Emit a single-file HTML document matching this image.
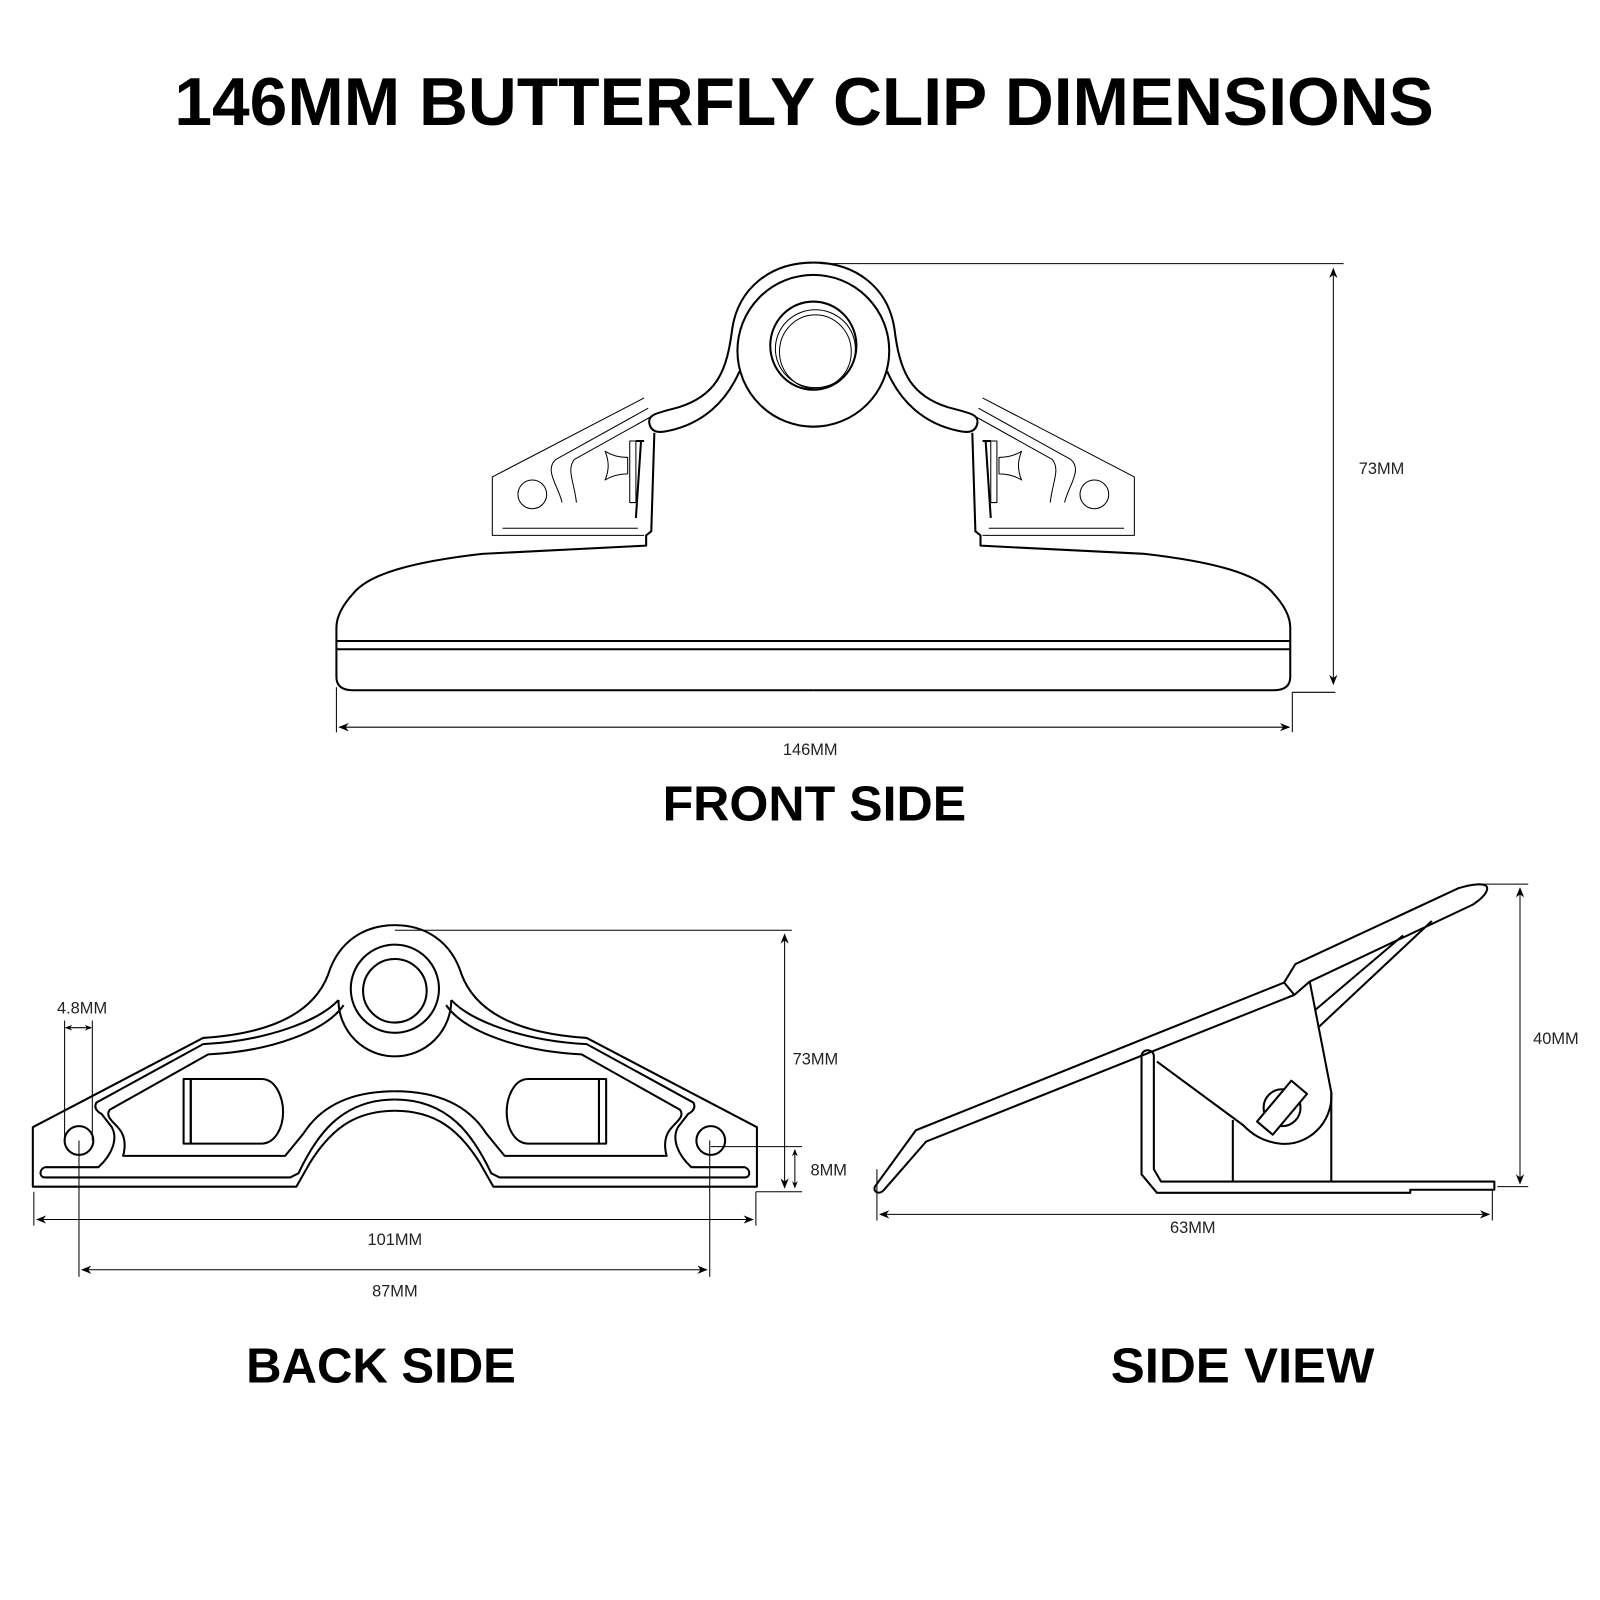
<!DOCTYPE html>
<html><head><style>html,body{margin:0;padding:0;background:#fff}svg{display:block}</style></head>
<body>
<svg width="1600" height="1600" viewBox="0 0 1560 1560" xmlns="http://www.w3.org/2000/svg">
<defs>
<marker id="a" viewBox="0 0 10 10" refX="9" refY="5" markerWidth="10" markerHeight="10" markerUnits="userSpaceOnUse" orient="auto-start-reverse"><path d="M0,1 L10,5 L0,9 L3,5Z" fill="#000"/></marker>
<marker id="s" viewBox="0 0 10 10" refX="9" refY="5" markerWidth="7" markerHeight="7" markerUnits="userSpaceOnUse" orient="auto-start-reverse"><path d="M0,1 L10,5 L0,9 L3,5Z" fill="#000"/></marker>
</defs>
<g font-family="Liberation Sans, sans-serif" fill="#000">
<text x="170" y="122" font-size="66" font-weight="bold" textLength="1228" lengthAdjust="spacingAndGlyphs">146MM BUTTERFLY CLIP DIMENSIONS</text>
<text x="646" y="800" font-size="48" font-weight="bold" textLength="296" lengthAdjust="spacingAndGlyphs">FRONT SIDE</text>
<text x="240" y="1348" font-size="48" font-weight="bold" textLength="263" lengthAdjust="spacingAndGlyphs">BACK SIDE</text>
<text x="1083" y="1348" font-size="48" font-weight="bold" textLength="257" lengthAdjust="spacingAndGlyphs">SIDE VIEW</text>
<g font-size="16" fill="#222">
<text x="1347" y="462" text-anchor="middle">73MM</text>
<text x="790" y="736" text-anchor="middle">146MM</text>
<text x="80" y="988" text-anchor="middle">4.8MM</text>
<text x="795" y="1038" text-anchor="middle">73MM</text>
<text x="808" y="1146" text-anchor="middle">8MM</text>
<text x="385" y="1214" text-anchor="middle">101MM</text>
<text x="385" y="1264" text-anchor="middle">87MM</text>
<text x="1517" y="1018" text-anchor="middle">40MM</text>
<text x="1163" y="1202" text-anchor="middle">63MM</text>
</g>
</g>

<!-- dimension lines -->
<g stroke="#000" stroke-width="1" fill="none">
<line x1="800" y1="257" x2="1310" y2="257"/>
<line x1="1300" y1="262" x2="1300" y2="667" marker-start="url(#a)" marker-end="url(#a)"/>
<line x1="1260" y1="675" x2="1302" y2="675"/>
<line x1="328" y1="670" x2="328" y2="714"/><line x1="1260" y1="675" x2="1260" y2="714"/>
<line x1="331" y1="709" x2="1257" y2="709" marker-start="url(#a)" marker-end="url(#a)"/>

<line x1="385" y1="907" x2="772" y2="907"/>
<line x1="765" y1="911" x2="765" y2="1158" marker-start="url(#a)" marker-end="url(#a)"/>
<line x1="737" y1="1162" x2="782" y2="1162"/>
<line x1="693" y1="1118" x2="782" y2="1118"/>
<line x1="775" y1="1121" x2="775" y2="1158" marker-start="url(#s)" marker-end="url(#s)"/>
<line x1="63" y1="995" x2="63" y2="1112"/><line x1="90" y1="995" x2="90" y2="1112"/>
<line x1="64" y1="1002" x2="89" y2="1002" marker-start="url(#s)" marker-end="url(#s)"/>
<line x1="33" y1="1162" x2="33" y2="1195"/><line x1="737" y1="1162" x2="737" y2="1195"/>
<line x1="36" y1="1189" x2="734" y2="1189" marker-start="url(#a)" marker-end="url(#a)"/>
<line x1="77" y1="1112" x2="77" y2="1245"/><line x1="692" y1="1112" x2="692" y2="1245"/>
<line x1="80" y1="1238" x2="689" y2="1238" marker-start="url(#a)" marker-end="url(#a)"/>

<line x1="1440" y1="862" x2="1490" y2="862"/>
<line x1="1460" y1="1157" x2="1490" y2="1157"/>
<line x1="1482" y1="866" x2="1482" y2="1154" marker-start="url(#a)" marker-end="url(#a)"/>
<line x1="855" y1="1140" x2="855" y2="1190"/><line x1="1455" y1="1160" x2="1455" y2="1190"/>
<line x1="858" y1="1184" x2="1452" y2="1184" marker-start="url(#a)" marker-end="url(#a)"/>
</g>

<!-- FRONT SIDE -->
<g stroke="#000" stroke-width="2" fill="none" stroke-linejoin="round">
<g id="fl">
<path d="M793,256 C750,256 720,282 714,320 C709,360 700,385 662,397 C640,403 632,404 633,412 C634,420 640,423 652,420 C685,413 708,392 721,362"/>
<path d="M638,422 L635,518 L630,522 L630,532 L470,540 C400,548 360,560 345,578 C332,592 328,603 328,612 L328,660 C328,669 334,673 344,673 L793,673"/>
<path d="M625,430 L620,505 M620,430 L628,430"/>
<g stroke-width="1">
<path d="M628,388 L480,465 L480,522 L628,522"/>
<path d="M632,398 L542,448 C530,458 545,475 548,490 C550,505 540,510 L628,510"/>
<path d="M637,405 L560,448 C552,458 560,470 562,490 C562,500 560,503 L620,503"/>
<circle cx="519" cy="482" r="14"/>
<path d="M490,515 L622,515 M590,440 C598,445 606,446 612,446 L612,462 C606,462 598,463 590,468 C594,458 594,450 590,440Z"/>
<rect x="614" y="430" width="6" height="60"/>
</g>
</g>
<use href="#fl" transform="translate(1586,0) scale(-1,1)"/>
<circle cx="793" cy="342" r="74"/>
<ellipse cx="793" cy="337" rx="42" ry="43"/>
<ellipse cx="795" cy="343" rx="35" ry="36" stroke-width="1"/>
<ellipse cx="795" cy="340" rx="39" ry="38" stroke-width="1"/>
<line x1="328" y1="625" x2="1258" y2="625"/>
<line x1="328" y1="633" x2="1258" y2="633"/>
</g>

<!-- BACK SIDE -->
<g stroke="#000" stroke-width="2" fill="none" stroke-linejoin="round">
<g id="bl">
<path d="M385,902 C355,902 330,918 320,950 C305,990 260,1008 198,1012 L32,1099 L32,1157 L289,1157 L302,1134 C322,1102 345,1083 385,1083"/>
<path d="M330,975 C312,995 260,1015 198,1018 L94,1075 C90,1082 99,1086 99,1086 L109,1099 C115,1110 110,1125 96,1138 L44,1138 C38,1140 38,1148 44,1148 L283,1148 L291,1144 C308,1108 332,1072 385,1072"/>
<path d="M335,980 C318,1005 265,1025 203,1028 L107,1082 C101,1090 115,1096 119,1105 C124,1115 120,1127 120,1127 L278,1127 L296,1105 C312,1080 340,1064 385,1064"/>
<path d="M186,1052 L255,1052 C270,1052 276,1072 276,1084 C276,1100 268,1115 255,1115 L186,1115 Z"/>
<path d="M179,1052 L186,1052 L186,1115 L179,1115 Z"/>
<circle cx="77" cy="1112" r="14"/>
</g>
<use href="#bl" transform="translate(770,0) scale(-1,1)"/>
<path d="M330,975 A55,55 0 0 0 440,975"/>
<circle cx="385" cy="964" r="43"/>
<circle cx="385" cy="966" r="31"/>
</g>

<!-- SIDE VIEW -->
<g stroke="#000" stroke-width="2" fill="none" stroke-linejoin="round">
<path d="M893,1102 L1252,958 L1263,940 L1422,866 C1435,862 1450,860 1450,866 C1450,872 1442,878 1436,882 L1277,957 L1262,970 L903,1113 L862,1160 C858,1165 851,1163 853,1157 Z"/>
<path d="M1252,958 L1262,970"/>
<path d="M1277,957 L1298,1065 L1298,1152"/>
<path d="M1298,1065 C1300,1095 1275,1118 1248,1115 C1230,1113 1220,1105 1212,1097 L1128,1035"/>
<path d="M1202,1092 L1202,1152"/>
<path d="M1396,898 L1285,1002 M1368,912 L1282,985"/>
<path d="M1113,1030 C1113,1022 1125,1022 1125,1030 L1125,1140 L1132,1152 L1457,1152 L1457,1160 L1375,1160 L1375,1163 L1128,1163 L1113,1145 Z"/>
<circle cx="1250" cy="1080" r="18"/>
<rect x="-26" y="-10" width="52" height="20" transform="translate(1250,1080) rotate(-50)" fill="#fff"/>
</g>
</svg>
</body></html>
